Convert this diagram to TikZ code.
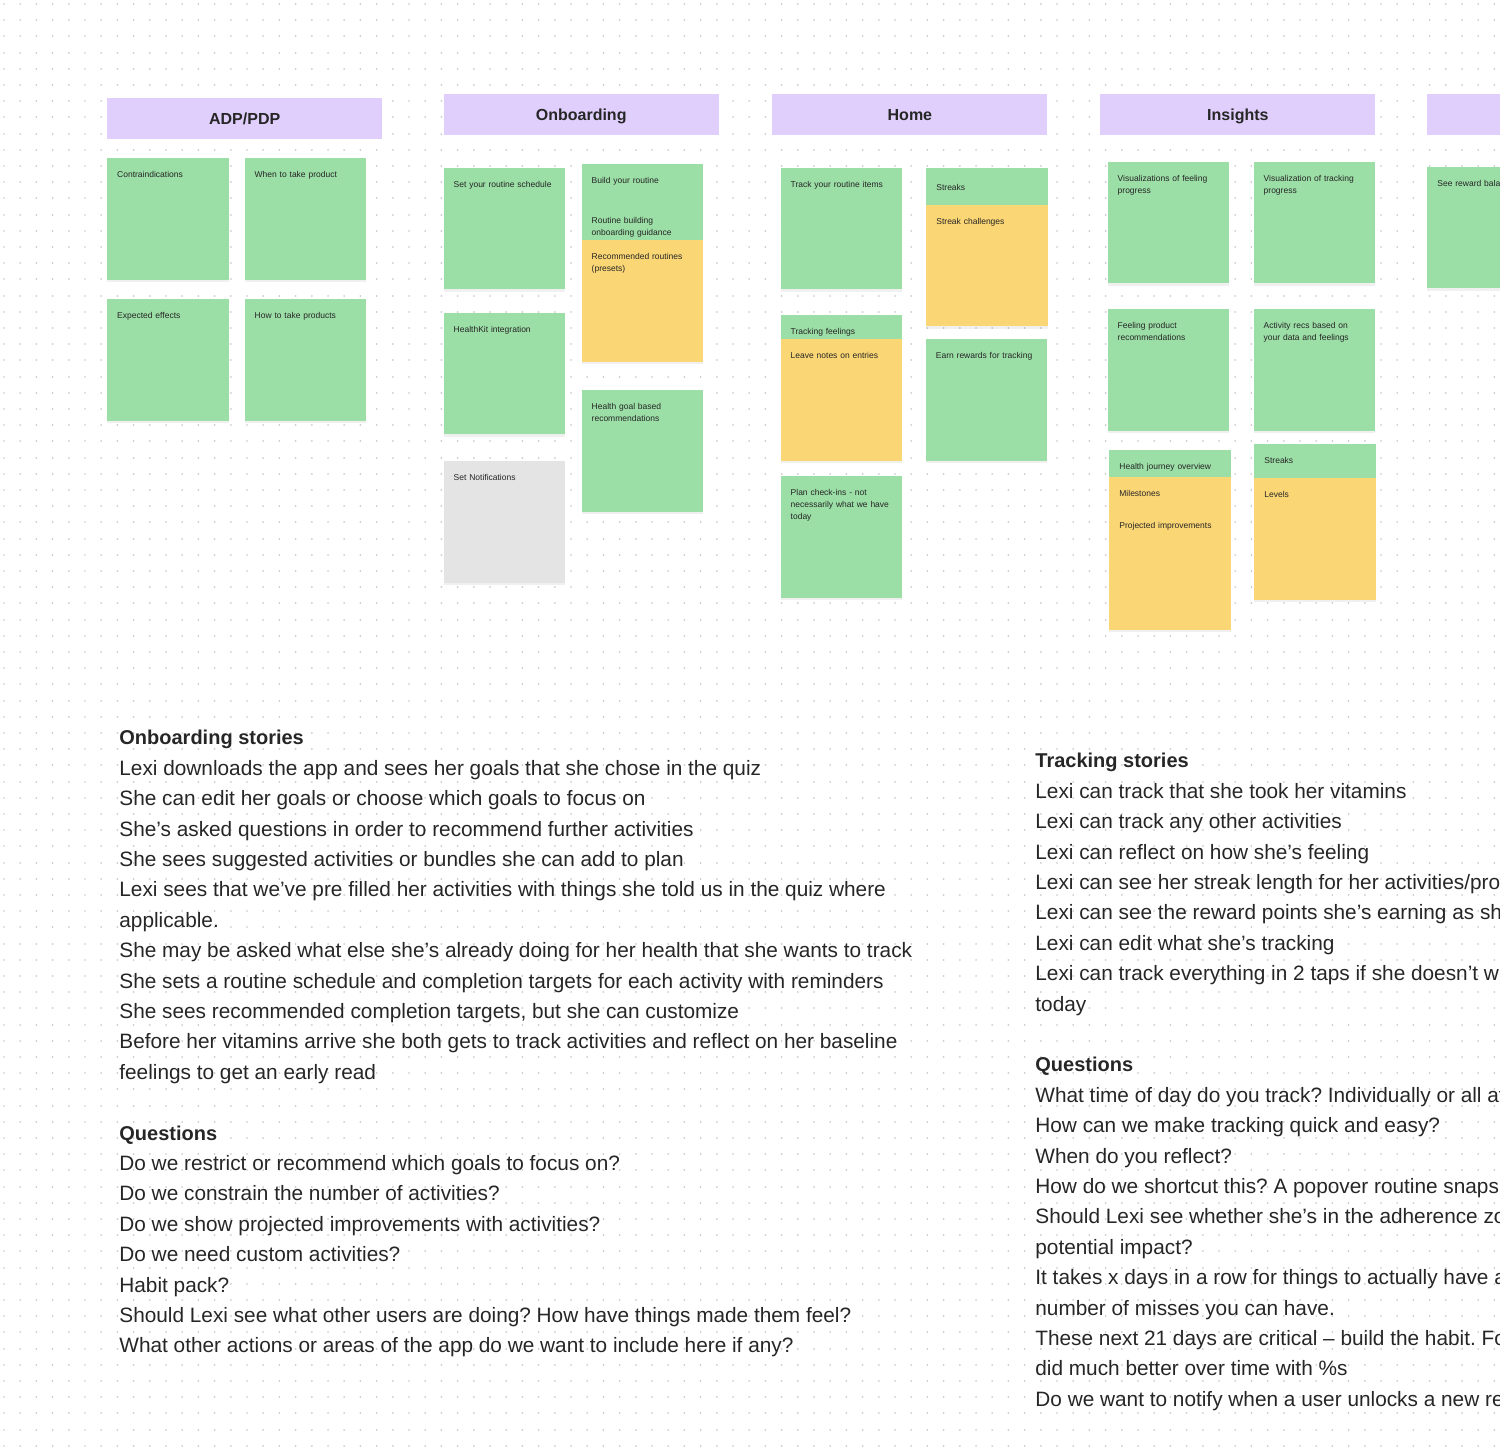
\documentclass[tikz,border=0pt]{standalone}
\usepackage{fontspec}
\setmainfont{Liberation Sans}
\usetikzlibrary{shadows}
\definecolor{headerpurple}{HTML}{E0CFFC}
\definecolor{notegreen}{HTML}{9BDEA6}
\definecolor{noteyellow}{HTML}{FBD675}
\definecolor{notegray}{HTML}{E4E4E4}
\definecolor{inktext}{HTML}{262626}
\definecolor{griddot}{HTML}{CACACA}
\newcommand{\storyhead}[1]{\textbf{\fontsize{10}{15.2}\selectfont #1}}
\frenchspacing
\begin{document}
\begin{tikzpicture}[x=0.5pt,y=-0.5pt]
        % Define styles
        \tikzset{
            gridrow/.style={griddot, line width=0.95pt, line cap=round, dash pattern=on 0.01pt off 8.09pt},
            header/.style={anchor=north west, fill=headerpurple, text=inktext, text width=137.5pt, align=center, inner sep=0pt, text height=13pt, text depth=7.25pt, font=\fontsize{8}{10}\selectfont\bfseries},
            note/.style={anchor=north west, fill=notegreen, text=inktext, text width=50.75pt, inner xsep=5pt, inner ysep=0pt, align=left, text height=9.75pt, text depth=#1, font=\fontsize{4.25}{6}\selectfont, drop shadow={shadow xshift=0pt, shadow yshift=-1.2pt, opacity=0.12}},
            note/.default=51pt,
            story/.style={anchor=north west, inner sep=0pt, align=left, text=inktext, font=\fontsize{10.4}{15.2}\selectfont}
        }
        \clip (0,0) rectangle (1500,1451);
        % Dotted canvas
        \foreach \j in {0,...,89}
            \draw[gridrow] (4,4+16.2*\j) -- (1505,4+16.2*\j);
        % Column headers
        \node[header] (adp) at (106.8,98) {ADP/PDP};
        \node[header] (onboarding) at (443.3,94) {Onboarding};
        \node[header] (home) at (772,94) {Home};
        \node[header] (insights) at (1100,94) {Insights};
        \node[header] (next) at (1427,94) {};
        % ADP/PDP notes
        \node[note] (contra) at (106.8,158) {Contraindications};
        \node[note] (when) at (244.3,158) {When to take product};
        \node[note] (effects) at (106.8,299) {Expected effects};
        \node[note] (how) at (244.3,299) {How to take products};
        % Onboarding notes
        \node[note] (schedule) at (443.3,167.5) {Set your routine schedule};
        \node[note] (healthkit) at (443.3,312.5) {HealthKit integration};
        \node[note, fill=notegray] (notify) at (443.3,461) {Set Notifications};
        \node[note=28.5pt] (build) at (581.3,163.5) {Build your routine\\[14pt]Routine building\\onboarding guidance};
        \node[note, fill=noteyellow] (presets) at (581.3,240) {Recommended routines\\(presets)};
        \node[note] (goal) at (581.3,390) {Health goal based\\recommendations};
        % Home notes
        \node[note] (track) at (780.3,167.5) {Track your routine items};
        \node[note=2.5pt] (feelings) at (780.3,314.5) {Tracking feelings};
        \node[note, fill=noteyellow] (entries) at (780.3,339) {Leave notes on entries};
        \node[note] (checkin) at (780.3,476) {Plan check-ins - not\\necessarily what we have\\today};
        \node[note=7pt, text height=11.5pt] (streaks) at (926,167.5) {Streaks};
        \node[note, fill=noteyellow] (challenges) at (926,204.5) {Streak challenges};
        \node[note] (rewards) at (925.5,339) {Earn rewards for tracking};
        % Insights notes
        \node[note] (vizfeel) at (1107.3,161.5) {Visualizations of feeling\\progress};
        \node[note] (viztrack) at (1253.3,161.5) {Visualization of tracking\\progress};
        \node[note] (product) at (1107.3,309) {Feeling product\\recommendations};
        \node[note] (activity) at (1253.3,309) {Activity recs based on\\your data and feelings};
        \node[note=3.6pt] (journey) at (1109,450) {Health journey overview};
        \node[note=66.6pt, fill=noteyellow] (milestones) at (1109,476.7) {Milestones\\[9.75pt]Projected improvements};
        \node[note=7.35pt] (streaksb) at (1254,443.5) {Streaks};
        \node[note, fill=noteyellow] (levels) at (1254,477.7) {Levels};
        % Cut off at the edge
        \node[note] (balance) at (1427,166.5) {See reward balance};
        % Stories
        \node[story] (onboardingstories) at (119,730) {\storyhead{Onboarding stories}\\
            Lexi downloads the app and sees her goals that she chose in the quiz\\
            She can edit her goals or choose which goals to focus on\\
            She’s asked questions in order to recommend further activities\\
            She sees suggested activities or bundles she can add to plan\\
            Lexi sees that we’ve pre filled her activities with things she told us in the quiz where\\
            applicable.\\
            She may be asked what else she’s already doing for her health that she wants to track\\
            She sets a routine schedule and completion targets for each activity with reminders\\
            She sees recommended completion targets, but she can customize\\
            Before her vitamins arrive she both gets to track activities and reflect on her baseline\\
            feelings to get an early read\\[15.2pt]
            \storyhead{Questions}\\
            Do we restrict or recommend which goals to focus on?\\
            Do we constrain the number of activities?\\
            Do we show projected improvements with activities?\\
            Do we need custom activities?\\
            Habit pack?\\
            Should Lexi see what other users are doing? How have things made them feel?\\
            What other actions or areas of the app do we want to include here if any?};
        \node[story] (trackingstories) at (1035,753) {\storyhead{Tracking stories}\\
            Lexi can track that she took her vitamins\\
            Lexi can track any other activities\\
            Lexi can reflect on how she’s feeling\\
            Lexi can see her streak length for her activities/pro\\
            Lexi can see the reward points she’s earning as she\\
            Lexi can edit what she’s tracking\\
            Lexi can track everything in 2 taps if she doesn’t w\\
            today\\[15.2pt]
            \storyhead{Questions}\\
            What time of day do you track? Individually or all at\\
            How can we make tracking quick and easy?\\
            When do you reflect?\\
            How do we shortcut this? A popover routine snaps\\
            Should Lexi see whether she’s in the adherence zo\\
            potential impact?\\
            It takes x days in a row for things to actually have a\\
            number of misses you can have.\\
            These next 21 days are critical – build the habit. Fo\\
            did much better over time with \%s\\
            Do we want to notify when a user unlocks a new re};
    \end{tikzpicture}
\end{document}
